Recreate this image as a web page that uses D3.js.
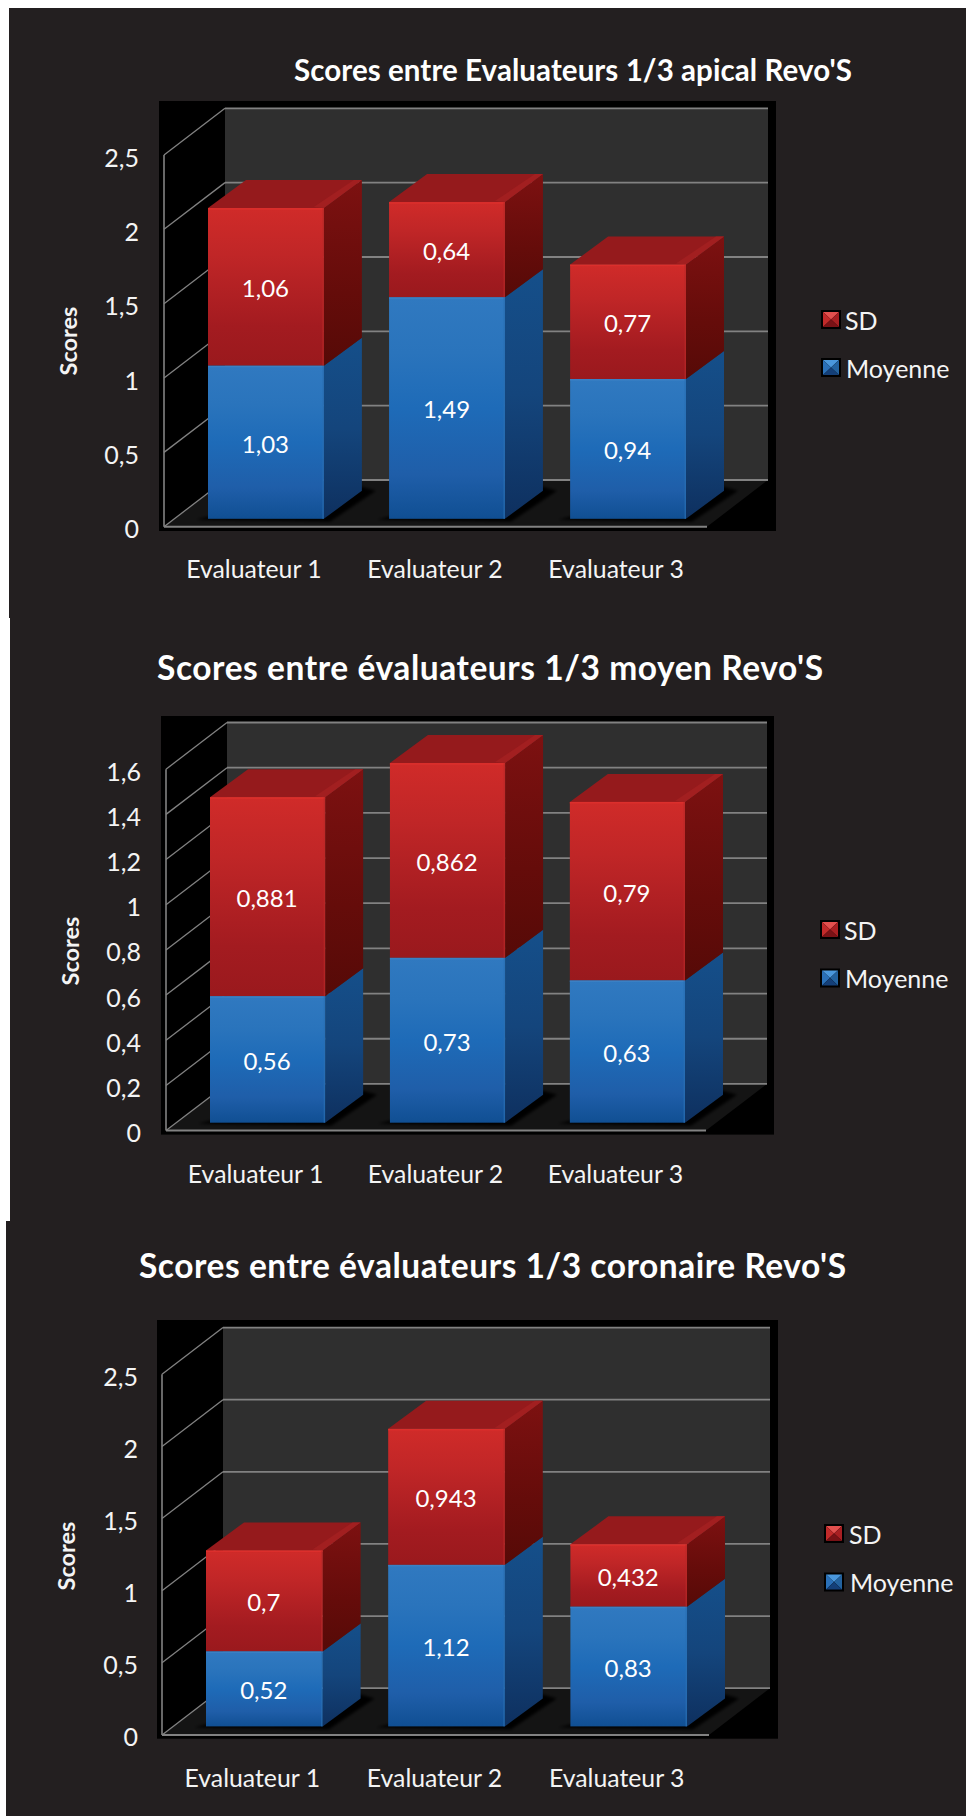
<!DOCTYPE html>
<html><head><meta charset="utf-8">
<script src="https://cdn.jsdelivr.net/npm/d3@7"></script>
<style>html,body{margin:0;padding:0;background:#fff}svg{display:block}text{font-family:Lato,"Open Sans",sans-serif;fill:#f4f4f4}</style>
</head><body><svg id="c" width="966" height="1816"></svg>
<script>
// ---- data ----
const categories = ["Evaluateur 1", "Evaluateur 2", "Evaluateur 3"];
const seriesNames = ["SD", "Moyenne"];
const titles = ["Scores entre Evaluateurs 1/3 apical Revo'S", "Scores entre évaluateurs 1/3 moyen Revo'S", "Scores entre évaluateurs 1/3 coronaire Revo'S"];
const apicalMoyenne = [1.03, 1.49, 0.94];
const apicalSD = [1.06, 0.64, 0.77];
const moyenMoyenne = [0.56, 0.73, 0.63];
const moyenSD = [0.881, 0.862, 0.79];
const coronaireMoyenne = [0.52, 1.12, 0.83];
const coronaireSD = [0.7, 0.943, 0.432];
const ticksA = [0, 0.5, 1, 1.5, 2, 2.5];
const ticksB = [0, 0.2, 0.4, 0.6, 0.8, 1, 1.2, 1.4, 1.6];

// ---- layout ----
const layouts = [
 {px:9, py:8, pb:618, title:titles[0], mean:apicalMoyenne, sd:apicalSD, ticks:ticksA, max:2.5,
  black:[159,101,776,531], ax:164, y0:526.7, yT:155, wr:768, fr:707, bandL:208, bandR:686, base:518.8, tx:294, tw:558, tb:81, tf:29.5,
  lx:139, xb:578, sx:69, sy:341, lg:[821,310,358], lt:846},
 {px:10, py:617, pb:1222, title:titles[1], mean:moyenMoyenne, sd:moyenSD, ticks:ticksB, max:1.6,
  black:[161,716,774,1134.6], ax:166, y0:1130.6, yT:769.2, wr:767, fr:706, bandL:210, bandR:685, base:1122.7, tx:157, tw:666, tb:680.3, tf:33.5,
  lx:141, xb:1183, sx:71, sy:951, lg:[820,920,968.5], lt:845},
 {px:6, py:1221, pb:1816, title:titles[2], mean:coronaireMoyenne, sd:coronaireSD, ticks:ticksA, max:2.5,
  black:[157,1320,778,1738.7], ax:162, y0:1734.9, yT:1374.3, wr:770, fr:709, bandL:206, bandR:687, base:1726.4, tx:139, tw:707, tb:1278.4, tf:33.5,
  lx:138, xb:1787, sx:67, sy:1556, lg:[824,1524,1572.5], lt:850}
];
const depthX = 38, depthY = 28, wallX = 61, wallY = 46.7, grid = "#828282";
const fmt = v => String(+v.toFixed(3)).replace(".", ",");

const svg = d3.select("#c");
const defs = svg.append("defs");
function grad(id, stops){
  const g = defs.append("linearGradient").attr("id", id).attr("x1",0).attr("y1",0).attr("x2",0).attr("y2",1);
  stops.forEach(s => g.append("stop").attr("offset", s[0]).attr("stop-color", s[1]));
}
grad("fr", [[0,"#d02b29"],[0.3,"#c02627"],[0.75,"#a31b20"],[1,"#9a191d"]]);
grad("fb", [[0,"#3079c0"],[0.25,"#2a74bc"],[0.5,"#1e6bb8"],[0.8,"#1f5ea9"],[1,"#104f93"]]);
grad("sr", [[0,"#7d1111"],[0.6,"#650c0a"],[1,"#560a07"]]);
grad("sb", [[0,"#154f8a"],[0.5,"#14457c"],[1,"#0e305f"]]);
const blur = defs.append("filter").attr("id","bl").attr("x","-20%").attr("y","-50%").attr("width","140%").attr("height","200%");
blur.append("feGaussianBlur").attr("stdDeviation",1.5);

// page panels
layouts.forEach(L => svg.append("rect").attr("x",L.px).attr("y",L.py).attr("width",966-L.px).attr("height",L.pb-L.py).attr("fill","#231f20"));

function poly(g, pts, fill){ return g.append("polygon").attr("points", pts.map(p=>p.join(",")).join(" ")).attr("fill", fill); }

layouts.forEach(L => {
  const g = svg.append("g");
  const [bx0,by0,bx1,by1] = L.black;
  g.append("rect").attr("x",bx0).attr("y",by0).attr("width",bx1-bx0).attr("height",by1-by0).attr("fill","#000");

  const yFront = d3.scaleLinear().domain([0,L.max]).range([L.y0,L.yT]);
  const yBack = d3.scaleLinear().domain([0,L.max]).range([L.y0-wallY,L.yT-wallY]);
  const yBar = d3.scaleLinear().domain([0,L.max]).range([L.base,L.base-(L.y0-L.yT)]);
  const x = d3.scaleBand().domain(categories).range([L.bandL,L.bandR]).paddingInner(0.36).paddingOuter(0);
  const wl = L.ax+wallX;

  // back wall
  g.append("rect").attr("x",wl).attr("y",yBack(L.max)).attr("width",L.wr-wl).attr("height",yBack(0)-yBack(L.max)).attr("fill","#2f2f2f");
  // floor
  poly(g, [[L.ax,L.y0],[L.fr,L.y0],[L.wr,L.y0-wallY],[wl,L.y0-wallY]], "#141414");
  // gridlines
  L.ticks.forEach(t => {
    g.append("line").attr("x1",wl).attr("x2",L.wr).attr("y1",yBack(t)).attr("y2",yBack(t)).attr("stroke",grid).attr("stroke-width",1.8);
    g.append("line").attr("x1",L.ax).attr("x2",wl).attr("y1",yFront(t)).attr("y2",yBack(t)).attr("stroke",grid).attr("stroke-width",1.3);
  });
  g.append("line").attr("x1",L.ax).attr("x2",L.ax).attr("y1",yFront(L.max)).attr("y2",yFront(0)).attr("stroke",grid).attr("stroke-width",1.6);
  g.append("line").attr("x1",L.ax).attr("x2",L.fr).attr("y1",yFront(0)).attr("y2",yFront(0)).attr("stroke",grid).attr("stroke-width",2);

  // bars
  categories.forEach((c,i) => {
    const xl = x(c), xr = xl + x.bandwidth(), m = L.mean[i], s = L.sd[i];
    const yb = yBar(0), ym = yBar(m), yt = yBar(m+s);
    // shadow on the floor
    poly(g, [[xl-12,yb+1],[xr+6,yb+3],[xr+depthX+14,yb-depthY],[xr+depthX,yb-depthY-4],[xl,yb-2]], "#000").attr("filter","url(#bl)");
    // side faces
    poly(g, [[xr,yb],[xr+depthX,yb-depthY],[xr+depthX,ym-depthY],[xr,ym]], "url(#sb)");
    poly(g, [[xr,ym],[xr+depthX,ym-depthY],[xr+depthX,yt-depthY],[xr,yt]], "url(#sr)");
    // top face
    poly(g, [[xl,yt],[xr,yt],[xr+depthX,yt-depthY],[xl+depthX,yt-depthY]], "#951a1c");
    poly(g, [[xr-10,yt-1],[xr,yt],[xr+depthX,yt-depthY],[xr+depthX-8,yt-depthY]], "#a21f20");
    // front faces
    g.append("rect").attr("x",xl).attr("y",ym).attr("width",xr-xl).attr("height",yb-ym).attr("fill","url(#fb)");
    g.append("rect").attr("x",xl).attr("y",yt).attr("width",xr-xl).attr("height",ym-yt).attr("fill","url(#fr)");
    // bevels
    g.append("rect").attr("x",xl).attr("y",yt).attr("width",xr-xl).attr("height",1.6).attr("fill","#dc2f2c");
    g.append("rect").attr("x",xl).attr("y",ym).attr("width",xr-xl).attr("height",1.6).attr("fill","#3a80c4");
    g.append("rect").attr("x",xr-1.5).attr("y",ym).attr("width",1.5).attr("height",yb-ym).attr("fill","#2a6fb3").attr("opacity",.7);
    g.append("rect").attr("x",xr-1.5).attr("y",yt).attr("width",1.5).attr("height",ym-yt).attr("fill","#b92a28").attr("opacity",.7);
    // value labels
    [[m,(yb+ym)/2],[s,(ym+yt)/2]].forEach(([v,cy]) => {
      g.append("text").attr("x",(xl+xr)/2-0.5).attr("y",cy+2).attr("dy","0.35em").attr("text-anchor","middle").attr("font-size",24).style("fill","#fff").text(fmt(v));
    });
  });

  // y axis labels
  const yAxis = d3.axisLeft(yFront).tickValues(L.ticks).tickSize(0).tickPadding(0).tickFormat(fmt);
  const ga = g.append("g").attr("transform","translate(" + L.lx + ",3)").call(yAxis);
  ga.select(".domain").remove();
  ga.attr("font-family",null);
  ga.selectAll("text").attr("font-size",25);

  // x axis labels
  const xAxis = d3.axisBottom(x).tickSize(0).tickPadding(0);
  const gx = g.append("g").attr("transform","translate(-12," + L.xb + ")").call(xAxis);
  gx.select(".domain").remove();
  gx.attr("font-family",null);
  gx.selectAll("text").attr("font-size",24.8).attr("y",0).attr("dy",0);

  // y title
  g.append("text").attr("transform","translate(" + L.sx + "," + L.sy + ") rotate(-90)").attr("dy","0.35em").attr("text-anchor","middle").attr("font-size",23.5).attr("font-weight",700).text("Scores");
  // chart title
  g.append("text").attr("x",L.tx).attr("y",L.tb).attr("font-size",L.tf).attr("font-weight",700).attr("textLength",L.tw).attr("lengthAdjust","spacing").style("fill","#fff").text(L.title);

  // legend
  seriesNames.forEach((n,i) => {
    const sx = L.lg[0], sy = L.lg[1+i], w = 20, h = 19, inset = 2;
    const pal = i===0 ? ["#e2504e","#c22a2a","#a81f22","#7a1216"] : ["#4a97dc","#2a70b8","#23629f","#143f78"];
    g.append("rect").attr("x",sx).attr("y",sy).attr("width",w).attr("height",h).attr("fill","#000");
    const a=sx+inset,b=sx+w-inset,t=sy+inset,u=sy+h-inset,cx=sx+w/2,cy=sy+h/2;
    poly(g,[[a,t],[b,t],[cx,cy]],pal[0]);
    poly(g,[[a,t],[a,u],[cx,cy]],pal[1]);
    poly(g,[[b,t],[b,u],[cx,cy]],pal[2]);
    poly(g,[[a,u],[b,u],[cx,cy]],pal[3]);
    g.append("text").attr("x",L.lt+(i?0:-1)).attr("y",sy+h/2+1.5).attr("dy","0.35em").attr("font-size",25).text(n);
  });
});
</script></body></html>
